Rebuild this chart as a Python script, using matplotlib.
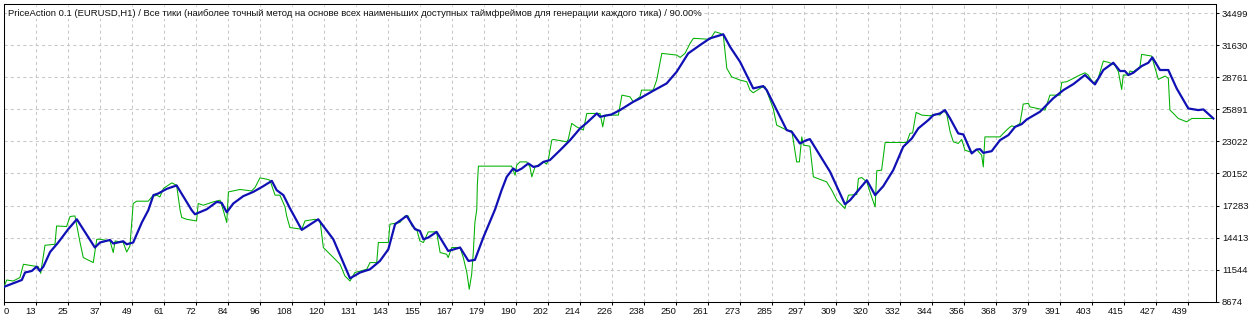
import matplotlib
matplotlib.use("Agg")
import matplotlib.pyplot as plt
import numpy as np

plt.rcParams['font.family'] = ['Liberation Sans', 'DejaVu Sans']

title = ("PriceAction 0.1 (EURUSD,H1) / Все тики (наиболее точный метод на основе всех наименьших "
         "доступных таймфреймов для генерации каждого тика) / 90.00%")

x_tick_labels = [0, 13, 25, 37, 49, 61, 72, 84, 96, 108, 120, 131, 143, 155, 167, 179, 190, 202,
                 214, 226, 238, 250, 261, 273, 285, 297, 309, 320, 332, 344, 356, 368, 379, 391,
                 403, 415, 427, 439]
y_tick_values = [8674, 11544, 14413, 17283, 20152, 23022, 25891, 28761, 31630, 34499]

balance_trade = [0, 6.6, 7.8, 10.3, 12.1, 13.3, 14.6, 17.1, 20.1, 23.8,
                 27.0, 33.7, 35.6, 39.3, 40.5, 44.2, 45.5, 47.9, 51.1, 53.5,
                 55.4, 57.2, 60.3, 64.0, 69.6, 70.8, 75.2, 78.9, 80.7, 82.6,
                 85.0, 88.7, 92.4, 96.1, 99.3, 101.1, 103.6, 106.0, 110.4, 116.5,
                 122.1, 128.3, 132.0, 135.7, 139.4, 142.5, 145.0, 149.3, 152.4, 154.2,
                 155.5, 157.3, 160.4, 164.7, 169.1, 172.2, 174.6, 177.7, 182.1, 184.5,
                 186.4, 188.8, 190.1, 192.0, 194.4, 196.3, 198.1, 200.0, 202.4, 206.2,
                 209.9, 213.6, 216.1, 219.8, 221.0, 225.3, 228.4, 233.3, 235.8, 240.7,
                 245.7, 249.4, 253.7, 258.1, 261.8, 266.7, 269.2, 272.9, 277.8, 281.5,
                 282.8, 286.5, 290.2, 292.1, 295.1, 297.6, 298.8, 302.5, 306.3, 310.0,
                 311.8, 313.7, 319.9, 323.0, 326.0, 329.7, 333.4, 336.6, 339.0, 342.7,
                 344.6, 347.0, 348.9, 350.8, 353.8, 355.7, 358.8, 360.6, 361.9, 363.1,
                 366.2, 369.3, 372.4, 374.9, 377.3, 379.2, 384.1, 389.0, 392.8, 396.5,
                 400.8, 404.5, 407.6, 411.3, 413.8, 415.6, 416.9, 418.7, 421.8, 424.3,
                 425.8, 428.6, 431.7, 434.8, 439.1, 442.8, 444.7, 448.4]
balance = [10000, 10610, 11280, 11420, 11810, 11420, 11810, 13120, 13970, 15160,
           16050, 13520, 13970, 14200, 13880, 14080, 13810, 13970, 15760, 16860,
           18210, 18360, 18770, 19080, 16860, 16500, 16950, 17610, 17520, 16680,
           17460, 18120, 18500, 19010, 19490, 18660, 18210, 17040, 15100, 16050,
           14260, 10760, 11280, 11570, 12320, 13360, 15610, 16350, 15160, 15010,
           14260, 14410, 14920, 13210, 13520, 12320, 12410, 14410, 16950, 18660,
           19850, 20600, 20360, 20600, 21050, 20740, 20830, 21190, 21350, 22240,
           23140, 24190, 24690, 25530, 25230, 25440, 25830, 26570, 26880, 27560,
           28220, 29260, 30910, 31660, 32260, 32620, 31500, 30160, 27770, 27980,
           27620, 25830, 24040, 23880, 22840, 23140, 23230, 21790, 20300, 18360,
           17400, 17760, 19550, 18210, 19010, 20450, 22540, 23290, 24190, 24930,
           25380, 25530, 25830, 25080, 23740, 23650, 21950, 22300, 22330, 22000,
           22150, 23140, 23590, 24330, 24570, 24990, 25680, 26880, 27620, 28160,
           28970, 28130, 29420, 30070, 29330, 29330, 28970, 29170, 29770, 30070,
           30550, 29420, 29420, 27770, 25980, 25830, 25890, 25080]

equity_trade = [0, 1.0, 3.4, 5.9, 7.2, 10.9, 12.7, 13.6, 15.2, 18.9,
                19.5, 23.2, 24.5, 26.3, 28.2, 29.4, 33.1, 34.4, 35.6, 39.3,
                40.5, 41.2, 44.2, 45.5, 46.7, 47.9, 49.2, 53.5, 54.8, 56.6,
                57.8, 59.1, 62.2, 64.0, 65.3, 65.9, 67.7, 71.4, 72.0, 73.9,
                77.6, 80.1, 81.3, 82.6, 83.2, 87.5, 91.8, 93.1, 94.9, 97.4,
                98.6, 100.5, 102.3, 104.2, 104.8, 106.0, 110.4, 111.6, 115.3, 117.2,
                118.4, 122.1, 124.6, 126.4, 128.3, 130.1, 134.5, 135.7, 138.2, 138.8,
                142.5, 143.1, 146.8, 148.7, 149.9, 151.2, 153.0, 154.2, 155.5, 157.3,
                160.4, 161.7, 164.1, 164.7, 166.0, 169.1, 170.3, 171.6, 172.5, 173.4,
                174.0, 174.6, 175.3, 175.5, 175.9, 188.2, 189.5, 190.1, 191.3, 193.8,
                195.0, 195.7, 196.9, 200.0, 201.2, 201.8, 203.1, 203.7, 208.6, 209.2,
                210.5, 212.3, 214.8, 216.1, 221.0, 222.0, 222.8, 227.8, 229.1, 232.1,
                233.3, 235.8, 236.4, 240.7, 242.0, 243.9, 249.4, 250.7, 252.5, 254.4,
                255.6, 261.8, 263.6, 265.5, 266.7, 268.0, 269.8, 272.9, 275.4, 276.6,
                277.8, 280.9, 282.2, 285.2, 286.5, 290.2, 292.1, 293.9, 294.9, 295.8,
                296.4, 298.8, 300.1, 305.0, 306.9, 308.8, 310.0, 311.8, 313.1, 316.2,
                316.8, 318.0, 319.9, 321.7, 323.0, 323.6, 325.4, 326.7, 334.7, 335.9,
                336.9, 338.2, 340.3, 343.3, 345.2, 347.0, 348.3, 349.5, 350.8, 352.0,
                353.8, 355.1, 356.3, 358.8, 360.6, 362.5, 363.1, 363.7, 369.3, 370.5,
                372.4, 373.6, 374.9, 376.7, 377.9, 379.8, 380.4, 386.0, 387.2, 387.8,
                391.5, 392.2, 394.0, 396.5, 398.9, 400.8, 402.0, 403.9, 405.7, 407.6,
                409.5, 411.9, 413.2, 414.4, 415.0, 416.9, 417.5, 418.7, 421.2, 421.8,
                425.5, 428.0, 430.5, 431.7, 432.3, 433.6, 435.4, 438.5, 440.4, 448.4]
equity = [10000, 10610, 10520, 10830, 12020, 11870, 11810, 11210, 13720, 13810,
          15450, 15400, 16300, 16350, 13970, 12620, 12170, 14260, 14260, 14110,
          13070, 14110, 13970, 13120, 13660, 17460, 17670, 17670, 18050, 18210,
          18050, 18810, 19310, 19100, 16860, 16210, 16050, 15900, 17460, 17310,
          17610, 17760, 16860, 15760, 18500, 18720, 18590, 18900, 19760, 19640,
          19550, 18210, 18210, 17160, 16350, 15310, 15160, 15900, 16050, 15900,
          13520, 12620, 12020, 10970, 10520, 11280, 11570, 12170, 12170, 13970,
          13970, 15610, 15760, 16350, 16350, 15450, 15160, 14110, 13970, 14920,
          14920, 13070, 12920, 12620, 13520, 13520, 12620, 11280, 9780, 11120,
          13070, 15760, 16950, 19100, 20810, 20810, 20000, 20900, 21190, 21190,
          20740, 19850, 20740, 21190, 20990, 21350, 23140, 23200, 22990, 23200,
          24640, 24330, 24040, 25530, 25530, 24330, 25380, 25380, 27170, 27020,
          26570, 27020, 27620, 27620, 28520, 30910, 30760, 30550, 30910, 31810,
          32260, 32170, 32850, 32710, 32550, 29570, 28810, 28520, 28370, 27620,
          27380, 27860, 27920, 25980, 24480, 24040, 23970, 21190, 21190, 23430,
          22690, 22600, 19850, 19400, 18660, 17760, 17460, 17010, 18210, 18270,
          19700, 19790, 19400, 18050, 17160, 20390, 20450, 22930, 22930, 23740,
          23790, 25620, 25380, 25320, 25470, 25380, 25740, 25530, 23880, 22990,
          22840, 23200, 22240, 22040, 22300, 21790, 20740, 23430, 23430, 23740,
          24190, 24420, 24330, 24640, 26370, 26430, 26120, 25830, 26730, 27170,
          27170, 28310, 28370, 28670, 28970, 29170, 28970, 28220, 28670, 30220,
          30110, 29860, 29260, 27680, 28970, 28970, 29330, 29260, 29710, 30820,
          30670, 28580, 28880, 28670, 25830, 25530, 25080, 24780, 25080, 25080]

W, H = 1260, 319
fig = plt.figure(figsize=(W / 100, H / 100), dpi=100, facecolor='white')
left, right, top, bottom = 4, 1215.7, 4, 302
ax = fig.add_axes([left / W, 1 - bottom / H, (right - left) / W, (bottom - top) / H])
ax.set_facecolor('white')

ax.plot(equity_trade, equity, color='#00b000', lw=0.75, zorder=3)
ax.plot(balance_trade, balance, color='#1010b4', lw=1.6, zorder=4, solid_joinstyle='round')

step = 439 / 37
xt = [i * step for i in range(len(x_tick_labels))]
ax.set_xticks(xt)
ax.set_xticklabels([str(v) for v in x_tick_labels])
ax.set_xlim(0, (right - left) / 32 * step)
ax.set_ylim(8640, 35333)
ax.set_yticks(y_tick_values)
ax.set_yticklabels([str(v) for v in y_tick_values])

ax.yaxis.tick_right()
ax.tick_params(axis='both', direction='out', length=2.5, width=0.75, color='black',
               labelsize=6.8, labelcolor='#101010')
ax.tick_params(axis='x', pad=1.0)
ax.tick_params(axis='y', pad=2.0)
for lbl in ax.get_xticklabels():
    lbl.set_ha('right')
ax.get_xticklabels()[0].set_ha('left')

ax.grid(True, color='#c8c8c8', lw=0.75, linestyle=(0, (3, 3)), zorder=1)
for s in ax.spines.values():
    s.set_color('black')
    s.set_linewidth(0.75)

fig.text(8 / W, 1 - 13 / H, title, ha='left', va='center', fontsize=6.8, color='#101010',
         bbox=dict(facecolor='white', edgecolor='none', pad=0.8), zorder=10)

fig.savefig('out.png', dpi=100, facecolor='white')
